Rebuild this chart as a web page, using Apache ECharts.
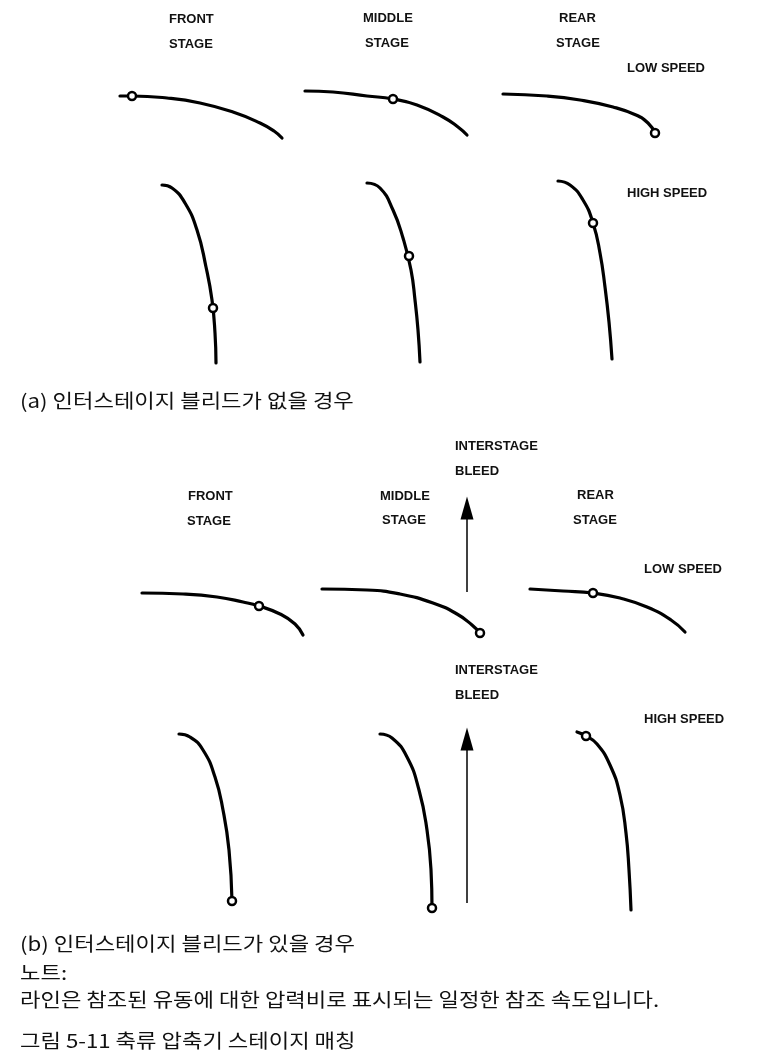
<!DOCTYPE html>
<html>
<head>
<meta charset="utf-8">
<script src="https://cdn.jsdelivr.net/npm/echarts@6/dist/echarts.min.js"></script>
<style>
  html, body { margin: 0; padding: 0; background: #fff; }
  #chart { width: 760px; height: 1058px; }
</style>
</head>
<body>
<div id="chart"></div>
<script>
// 스테이지 매칭 선 (픽셀 좌표 기준: x 0-760, y 0-1058 위에서 아래로)
var aLowFront = [[120, 96], [132, 96], [167, 98], [200, 103], [233, 112], [260, 123], [274, 131], [282, 138]];
var aLowMiddle = [[305, 91], [333, 92], [367, 96], [393, 99], [417, 105], [443, 117], [458, 127], [467, 135]];
var aLowRear = [[503, 94], [547, 96], [580, 100], [613, 107], [636, 115], [648, 123], [655, 133]];
var aHighFront = [[162, 185], [172, 188], [185, 203], [197, 230], [206, 267], [212, 300], [215, 333], [216, 363]];
var aHighMiddle = [[367, 183], [380, 188], [393, 210], [403, 238], [411, 270], [415, 300], [418, 330], [420, 362]];
var aHighRear = [[558, 181], [570, 185], [583, 200], [593, 223], [600, 253], [605, 287], [609, 322], [612, 359]];

var bLowFront = [[142, 593], [183, 594], [217, 597], [243, 602], [259, 606], [280, 614], [295, 624], [303, 635]];
var bLowMiddle = [[322, 589], [367, 590], [400, 594], [433, 603], [457, 614], [472, 625], [480, 633]];
var bLowRear = [[530, 589], [563, 591], [593, 593], [620, 598], [647, 607], [671, 620], [685, 632]];
var bHighFront = [[179, 734], [190, 737], [203, 750], [215, 777], [223, 810], [229, 850], [232, 901]];
var bHighMiddle = [[380, 734], [392, 738], [407, 757], [419, 790], [427, 830], [431, 870], [432, 908]];
var bHighRear = [[577, 732], [586, 736], [597, 744], [610, 765], [620, 795], [626, 833], [629, 870], [631, 910]];

// 작동점 표시 (원)
var aMarkers = [[132, 96], [393, 99], [655, 133], [213, 308], [409, 256], [593, 223]];
var bMarkers = [[259, 606], [480, 633], [593, 593], [232, 901], [432, 908], [586, 736]];

// 인터스테이지 블리드 화살표
var bleedUpperShaft = [[467, 592], [467, 515]];
var bleedLowerShaft = [[467, 903], [467, 745]];
var bleedHeads = [[467, 508], [467, 739]];

var stageNames = [["FRONT", "STAGE"], ["MIDDLE", "STAGE"], ["REAR", "STAGE"]];
var speedNames = ["LOW SPEED", "HIGH SPEED"];
var bleedName = ["INTERSTAGE", "BLEED"];
var captionA = "(a) 인터스테이지 블리드가 없을 경우";
var captionB = "(b) 인터스테이지 블리드가 있을 경우";
var noteLines = ["노트:", "라인은 참조된 유동에 대한 압력비로 표시되는 일정한 참조 속도입니다."];
var figTitle = "그림 5-11 축류 압축기 스테이지 매칭";

var chart = echarts.init(document.getElementById("chart"), null, { renderer: "canvas" });

function curve(data) {
  return {
    type: "line",
    data: data,
    smooth: 0.5,
    showSymbol: false,
    symbol: "none",
    lineStyle: { color: "#000", width: 3.2, cap: "round" },
    z: 2,
    silent: true
  };
}

function shaft(data) {
  return {
    type: "line",
    data: data,
    showSymbol: false,
    symbol: "none",
    lineStyle: { color: "#000", width: 1.5 },
    z: 2,
    silent: true
  };
}

var labelFont = { fontFamily: "Liberation Sans, Arial, sans-serif", fontWeight: "bold", fontSize: 13, fill: "#111" };
var koFont = { fontFamily: "Noto Sans CJK KR, sans-serif", fontSize: 19, fill: "#111" };

function label(text, x, y) {
  return {
    type: "text",
    left: x,
    top: y,
    style: Object.assign({ text: text, textVerticalAlign: "middle" }, labelFont)
  };
}
// 한글 캡션: 원본 글꼴이 더 넓어서 가로로 약간 늘림
function koText(text, x, y) {
  return {
    type: "text",
    x: x,
    y: y,
    scaleX: 1.17,
    style: Object.assign({ text: text, textVerticalAlign: "middle" }, koFont)
  };
}

var graphics = [
  // (a)
  label(stageNames[0][0], 169, 13), label(stageNames[0][1], 169, 38),
  label(stageNames[1][0], 363, 12), label(stageNames[1][1], 365, 37),
  label(stageNames[2][0], 559, 12), label(stageNames[2][1], 556, 37),
  label(speedNames[0], 627, 62),
  label(speedNames[1], 627, 187),
  koText(captionA, 20, 401),
  // (b)
  label(bleedName[0], 455, 440), label(bleedName[1], 455, 465),
  label(stageNames[0][0], 188, 490), label(stageNames[0][1], 187, 515),
  label(stageNames[1][0], 380, 490), label(stageNames[1][1], 382, 514),
  label(stageNames[2][0], 577, 489), label(stageNames[2][1], 573, 514),
  label(speedNames[0], 644, 563),
  label(bleedName[0], 455, 664), label(bleedName[1], 455, 689),
  label(speedNames[1], 644, 713),
  koText(captionB, 20, 944),
  koText(noteLines[0], 20, 973),
  koText(noteLines[1], 20, 1000),
  koText(figTitle, 20, 1041)
];

var option = {
  animation: false,
  backgroundColor: "#fff",
  grid: { left: 0, right: 0, top: 0, bottom: 0 },
  xAxis: { type: "value", min: 0, max: 760, show: false },
  yAxis: { type: "value", min: 0, max: 1058, inverse: true, show: false },
  graphic: graphics,
  series: [
    curve(aLowFront), curve(aLowMiddle), curve(aLowRear),
    curve(aHighFront), curve(aHighMiddle), curve(aHighRear),
    curve(bLowFront), curve(bLowMiddle), curve(bLowRear),
    curve(bHighFront), curve(bHighMiddle), curve(bHighRear),
    shaft(bleedUpperShaft), shaft(bleedLowerShaft),
    {
      type: "scatter",
      data: bleedHeads,
      symbol: "triangle",
      symbolSize: [13, 23],
      itemStyle: { color: "#000", opacity: 1 },
      z: 3,
      silent: true
    },
    {
      type: "scatter",
      data: aMarkers.concat(bMarkers),
      symbol: "circle",
      symbolSize: 8,
      itemStyle: { color: "#fff", borderColor: "#000", borderWidth: 2.5, opacity: 1 },
      z: 4,
      silent: true
    }
  ]
};

chart.setOption(option);
</script>
</body>
</html>
